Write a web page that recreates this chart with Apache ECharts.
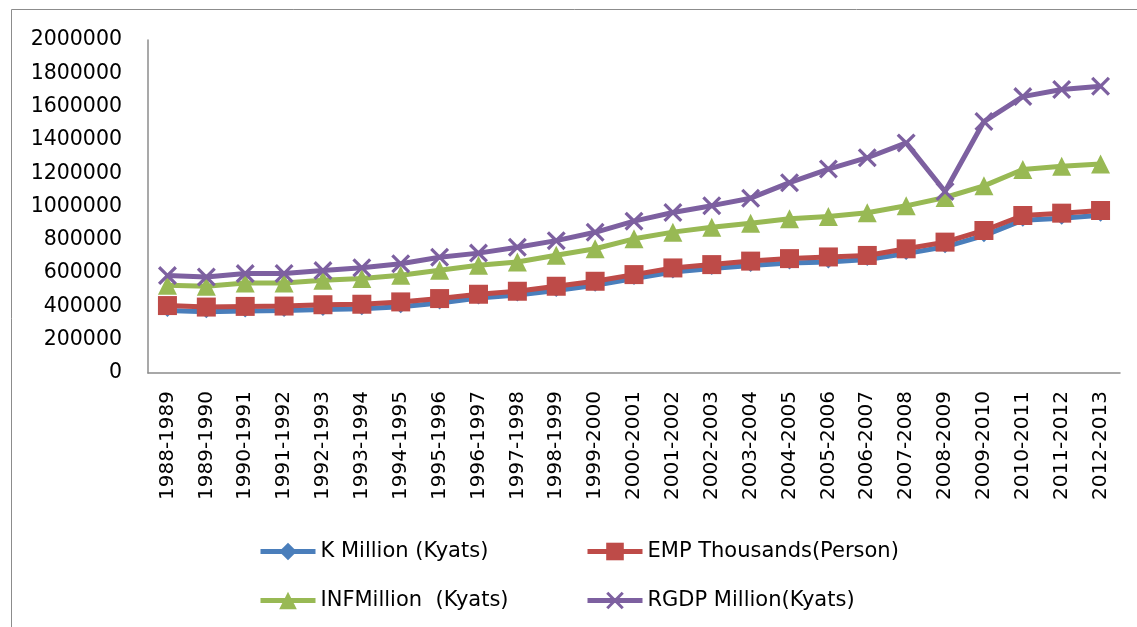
<!DOCTYPE html>
<html>
<head>
<meta charset="utf-8">
<script src="https://cdn.jsdelivr.net/npm/echarts@6/dist/echarts.min.js"></script>
<style>
  html, body { margin: 0; padding: 0; background: #fff; }
  #chart { width: 1137px; height: 627px; }
</style>
</head>
<body>
<div id="chart"></div>
<script>
// Fiscal years
const years = [
  '1988-1989','1989-1990','1990-1991','1991-1992','1992-1993','1993-1994',
  '1994-1995','1995-1996','1996-1997','1997-1998','1998-1999','1999-2000',
  '2000-2001','2001-2002','2002-2003','2003-2004','2004-2005','2005-2006',
  '2006-2007','2007-2008','2008-2009','2009-2010','2010-2011','2011-2012',
  '2012-2013'
];

// Capital stock, million kyats
const kMillion = [
  375000, 368000, 372000, 375000, 382000, 386000, 398000, 420000, 450000,
  468000, 495000, 527000, 567000, 607000, 627000, 645000, 660000, 667000,
  682000, 717000, 758000, 825000, 918000, 930000, 948000
];

// Employment, thousand persons
const empThousands = [
  405000, 396000, 400000, 402000, 410000, 413000, 427000, 447000, 473000,
  491000, 521000, 551000, 591000, 631000, 651000, 672000, 687000, 697000,
  706000, 746000, 786000, 856000, 946000, 960000, 976000
];

// Investment, million kyats
const infMillion = [
  527000, 521000, 541000, 541000, 557000, 567000, 587000, 617000, 647000,
  667000, 707000, 746000, 806000, 846000, 876000, 900000, 926000, 940000,
  962000, 1004000, 1054000, 1124000, 1222000, 1242000, 1255000
];

// Real GDP, million kyats
const rgdpMillion = [
  585000, 577000, 597000, 598000, 615000, 632000, 656000, 695000, 720000,
  755000, 795000, 845000, 912000, 964000, 1005000, 1050000, 1143000, 1225000,
  1293000, 1382000, 1090000, 1510000, 1660000, 1703000, 1722000
];

const yTicks = { min: 0, max: 2000000, interval: 200000 };

const seriesNames = [
  'K Million (Kyats)',
  'EMP Thousands(Person)',
  'INFMillion  (Kyats)',
  'RGDP Million(Kyats)'
];

const colors = ['#4a7ebb', '#be4b48', '#98b954', '#7d60a0'];
const crossPath = 'path://M0,1.2L1.2,0L5,3.8L8.8,0L10,1.2L6.2,5L10,8.8L8.8,10L5,6.2L1.2,10L0,8.8L3.8,5Z';

const font = '"DejaVu Sans", sans-serif';

function lineSeries(name, data, color, symbol, size) {
  return {
    name: name,
    type: 'line',
    data: data,
    symbol: symbol,
    symbolSize: size,
    showAllSymbol: true,
    lineStyle: { color: color, width: 5 },
    itemStyle: { color: color },
    emphasis: { disabled: true },
    animation: false
  };
}

function legendAt(name, left, top) {
  return {
    data: [name],
    left: left,
    top: top,
    itemWidth: 55,
    itemHeight: 22,
    itemGap: 4,
    lineStyle: { width: 5 },
    textStyle: { fontFamily: font, fontSize: 21, color: '#000' },
    selectedMode: false
  };
}

const chart = echarts.init(document.getElementById('chart'), null, { renderer: 'canvas' });

chart.setOption({
  backgroundColor: '#fff',
  color: colors,
  animation: false,
  graphic: [{
    type: 'rect',
    shape: { x: 11.5, y: 9.5, width: 1140, height: 640 },
    style: { fill: 'none', stroke: '#8c8c8c', lineWidth: 1 },
    silent: true,
    z: -1
  }],
  grid: { left: 148, right: 17, top: 40, bottom: 254 },
  legend: [
    legendAt(seriesNames[0], 253, 536),
    legendAt(seriesNames[1], 580, 536),
    legendAt(seriesNames[2], 253, 585),
    legendAt(seriesNames[3], 580, 585)
  ],
  xAxis: {
    type: 'category',
    data: years,
    boundaryGap: true,
    axisLine: { lineStyle: { color: '#8c8c8c', width: 1.5 } },
    axisTick: { show: false },
    axisLabel: {
      rotate: 90,
      interval: 0,
      margin: 18,
      fontFamily: font,
      fontSize: 20,
      color: '#000'
    },
    splitLine: { show: false }
  },
  yAxis: {
    type: 'value',
    min: yTicks.min,
    max: yTicks.max,
    interval: yTicks.interval,
    axisLine: { show: true, lineStyle: { color: '#8c8c8c', width: 1.5 } },
    axisTick: { show: false },
    axisLabel: {
      margin: 26,
      fontFamily: font,
      fontSize: 20.5,
      color: '#000',
      formatter: function (v) { return String(v); }
    },
    splitLine: { show: false }
  },
  series: [
    lineSeries(seriesNames[0], kMillion, colors[0], 'diamond', 13),
    lineSeries(seriesNames[1], empThousands, colors[1], 'rect', 19),
    lineSeries(seriesNames[2], infMillion, colors[2], 'triangle', 19),
    lineSeries(seriesNames[3], rgdpMillion, colors[3], crossPath, 19)
  ]
});
</script>
</body>
</html>
